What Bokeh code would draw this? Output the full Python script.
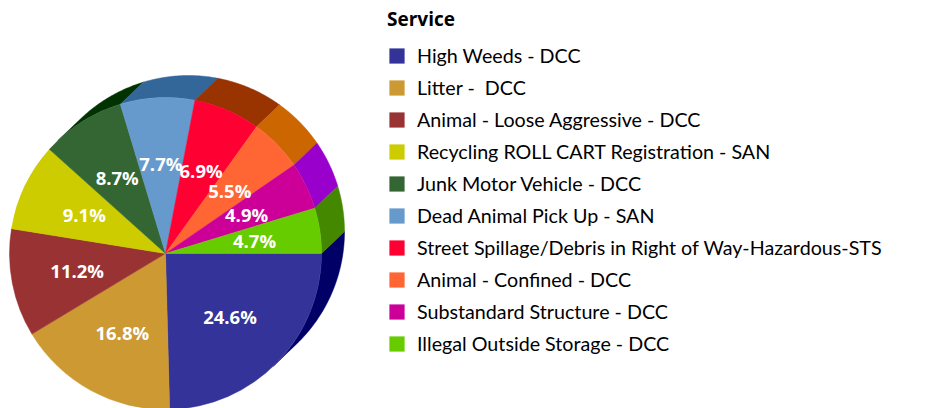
import numpy as np
from bokeh.plotting import figure
from bokeh.models import Range1d, ColumnDataSource, Legend, LegendItem
from bokeh.embed import file_html
from bokeh.resources import INLINE

services = [
    "High Weeds - DCC",
    "Litter -  DCC",
    "Animal - Loose Aggressive - DCC",
    "Recycling ROLL CART Registration - SAN",
    "Junk Motor Vehicle - DCC",
    "Dead Animal Pick Up - SAN",
    "Street Spillage/Debris in Right of Way-Hazardous-STS",
    "Animal - Confined - DCC",
    "Substandard Structure - DCC",
    "Illegal Outside Storage - DCC",
]
shares = [24.6, 16.8, 11.2, 9.1, 8.7, 7.7, 6.9, 5.5, 4.9, 4.7]
colors = ["#333399", "#CC9933", "#993333", "#CCCC00", "#336633",
          "#6699CC", "#FF0033", "#FF6633", "#CC0099", "#66CC00"]
side_colors = ["#000066", "#996600", "#660000", "#999900", "#003300",
               "#336699", "#993300", "#CC6600", "#9900CC", "#448800"]

W, H = 933, 408
cx, cy, R = 165, H - 253, 156
dx, dy = 23, 22  # depth offset (up-right)

p = figure(width=W, height=H, output_backend="svg", toolbar_location=None,
           x_range=Range1d(0, W), y_range=Range1d(0, H), min_border=0,
           outline_line_color=None, background_fill_color="white")
p.axis.visible = False
p.grid.visible = False

vals = np.array(shares, dtype=float)
frac = vals / vals.sum()
cum = np.concatenate([[0], np.cumsum(frac)])
lo = -cum[1:] * 2 * np.pi
hi = -cum[:-1] * 2 * np.pi

# side walls
theta_t = np.arctan2(dy, dx)
vis_lo, vis_hi = theta_t - np.pi / 2, theta_t + np.pi / 2
xs, ys, sc = [], [], []
for i in range(len(shares)):
    for k in (-2 * np.pi, 0, 2 * np.pi):
        a, b = max(lo[i] + k, vis_lo), min(hi[i] + k, vis_hi)
        if b > a:
            t = np.linspace(a, b, 60)
            fx = cx + R * np.cos(t)
            fy = cy + R * np.sin(t)
            xs.append(list(fx) + list(fx[::-1] + dx))
            ys.append(list(fy) + list(fy[::-1] + dy))
            sc.append(side_colors[i])
p.patches(xs=xs, ys=ys, fill_color=sc, line_color=sc, line_width=0.5)

src = ColumnDataSource(dict(start=lo, end=hi, color=colors))
p.wedge(x=cx, y=cy, radius=R, start_angle="start", end_angle="end",
        direction="anticlock", fill_color="color", line_color="color",
        line_width=0.5, source=src)

mid = (lo + hi) / 2
lr = 90
p.text(x=cx + lr * np.cos(mid), y=cy + lr * np.sin(mid),
       text=[f"{s}%" for s in shares], text_color="white",
       text_font={"value": "Open Sans"}, text_font_style="bold",
       text_font_size="18.5px", text_align="center", text_baseline="middle")

# legend
nan = [np.nan] * len(shares)
lsrc = ColumnDataSource(dict(l=nan, r=nan, t=nan, b=nan, color=colors))
qr = p.quad(left="l", right="r", top="t", bottom="b", fill_color="color",
            line_color=None, source=lsrc)
items = [LegendItem(label=s, renderers=[qr], index=i) for i, s in enumerate(services)]
legend = Legend(items=items, location=(387, 53), title="Service",
                title_text_font="Open Sans", title_text_font_style="bold",
                title_text_font_size="19px", title_text_color="black",
                title_standoff=12,
                label_text_font="Lato", label_text_font_size="19.7px",
                label_text_color="black",
                label_height=20, glyph_height=19, glyph_width=19,
                label_standoff=11, spacing=9, padding=0, margin=0,
                border_line_color=None, background_fill_alpha=0)
p.add_layout(legend)

open("out.html", "w").write(file_html(p, INLINE))
